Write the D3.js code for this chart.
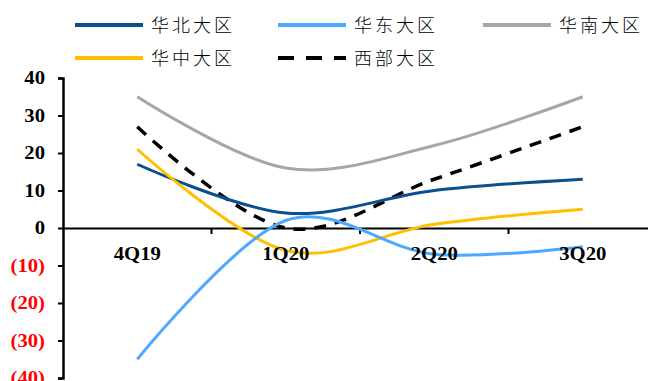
<!DOCTYPE html>
<html><head><meta charset="utf-8">
<script src="https://cdn.jsdelivr.net/npm/d3@7"></script>
<style>body{margin:0;background:#fff;}svg{display:block;}</style>
</head><body>
<svg id="c" width="648" height="381"></svg>
<script>
const categories = ["4Q19", "1Q20", "2Q20", "3Q20"];
const seriesNames = ["华北大区", "华东大区", "华南大区", "华中大区", "西部大区"];
const north = [17, 4, 10, 13];
const east = [-35, 2, -7, -5];
const south = [35, 16, 22, 35];
const central = [21, -6, 1, 5];
const west = [27, 0, 13, 27];
const yTicks = [40, 30, 20, 10, 0, -10, -20, -30, -40];
const colors = ["#0B4F8E", "#4DA9FF", "#A6A6A6", "#FFC000", "#000000"];

const series = [north, east, south, central, west];
const svg = d3.select("#c");
const x = d3.scaleBand().domain(categories).range([63, 657]);
const y = d3.scaleLinear().domain([-40, 40]).range([378, 78]);
const SX = 1.15;
const serif = "'Liberation Serif','Times New Roman',serif";

// y axis
const yAxis = svg.append("g").attr("transform", "translate(63,0)")
  .call(d3.axisLeft(y).tickValues(yTicks).tickSize(5).tickFormat(""));
yAxis.select(".domain").attr("stroke", "#000").attr("stroke-width", 2.5);
yAxis.selectAll(".tick line").attr("stroke", "#000").attr("stroke-width", 2);
svg.append("g").selectAll("text").data(yTicks).join("text")
  .attr("transform", d => `translate(45,${y(d) + 6}) scale(${SX},1)`)
  .attr("text-anchor", "end")
  .attr("font-family", serif).attr("font-weight", "bold").attr("font-size", 18)
  .attr("fill", d => d < 0 ? "#FF0000" : "#000")
  .text(d => d < 0 ? `(${-d})` : d);

// x axis at zero
const xAxis = svg.append("g").attr("transform", `translate(0,${y(0)})`)
  .call(d3.axisBottom(x).tickSize(0).tickFormat(""));
xAxis.select(".domain").attr("stroke", "#000").attr("stroke-width", 2);
const bounds = categories.slice(1).map(c => x(c));
svg.append("g").selectAll("line").data(bounds).join("line")
  .attr("x1", d => d).attr("x2", d => d)
  .attr("y1", y(0)).attr("y2", y(0) + 6)
  .attr("stroke", "#000").attr("stroke-width", 2);

// lines
const line = d3.line()
  .x((d, i) => x(categories[i]) + x.bandwidth() / 2)
  .y(d => y(d))
  .curve(d3.curveCardinal.tension(0));
const drawOrder = [2, 4, 0, 3, 1];
drawOrder.forEach(k => {
  svg.append("path").datum(series[k])
    .attr("d", line).attr("fill", "none")
    .attr("stroke", colors[k])
    .attr("stroke-width", k === 4 ? 3.5 : 3)
    .attr("stroke-dasharray", k === 4 ? "12,9" : null)
    .attr("stroke-linecap", "butt");
});

// category labels (drawn over the lines)
svg.append("g").selectAll("text").data(categories).join("text")
  .attr("transform", d => `translate(${x(d) + x.bandwidth() / 2},${y(0) + 32}) scale(${SX},1)`)
  .attr("text-anchor", "middle")
  .attr("font-family", serif).attr("font-weight", "bold").attr("font-size", 18)
  .attr("fill", "#000").text(d => d);

// legend
const legPos = [[75, 25], [278, 25], [483, 25], [75, 58], [278, 58]];
const leg = svg.append("g").selectAll("g").data(seriesNames).join("g")
  .attr("transform", (d, i) => `translate(${legPos[i][0]},${legPos[i][1]})`);
leg.append("line").attr("x1", 0).attr("x2", 68).attr("y1", 0).attr("y2", 0)
  .attr("stroke", (d, i) => colors[i])
  .attr("stroke-width", 4)
  .attr("stroke-dasharray", (d, i) => i === 4 ? "16,12" : null);
leg.append("text").attr("x", 76).attr("y", 7)
  .attr("font-family", "'Noto Sans CJK SC',sans-serif").attr("font-weight", 300)
  .attr("font-size", 18).attr("letter-spacing", 3).attr("fill", "#000")
  .text(d => d);
</script>
</body></html>
